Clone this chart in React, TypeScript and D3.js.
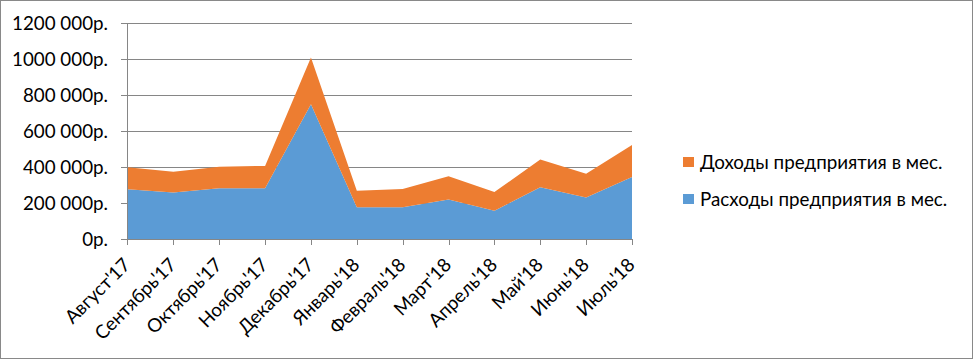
import React, { useEffect, useRef } from 'react';
import * as d3 from 'd3';

const months = ["Август'17", "Сентябрь'17", "Октябрь'17", "Ноябрь'17", "Декабрь'17", "Январь'18",
    "Февраль'18", "Март'18", "Апрель'18", "Май'18", "Июнь'18", "Июль'18"];

// нижний слой
const expenses = [276000, 259000, 282000, 282000, 748000, 176000, 176000, 220000, 157000, 287000, 230000, 344000];
// верхний слой (сверху расходов)
const income = [122000, 115000, 120000, 124000, 261000, 92000, 102000, 128000, 104000, 154000, 133000, 178000];

const seriesNames = ['Расходы предприятия в мес.', 'Доходы предприятия в мес.'];
const colors = ['#5B9BD5', '#ED7D31'];
const yTicks = [0, 200000, 400000, 600000, 800000, 1000000, 1200000];

const fmt = (v: number) => {
    if (v === 0) return '0р.';
    const s = String(v);
    return s.slice(0, s.length - 3) + ' ' + s.slice(-3) + 'р.';
};

const Chart = () => {
    const svgRef = useRef<SVGSVGElement>(null);

    useEffect(() => {
        const svg = d3.select(svgRef.current);
        const width = 975;
        const height = 361;
        const font = 'Lato, Calibri, sans-serif';
        const fs = 18.8;

        svg.selectAll('*').remove();

        svg.append('rect')
            .attr('x', 0.5).attr('y', 0.5)
            .attr('width', width - 3).attr('height', height - 3)
            .attr('fill', '#fff')
            .attr('stroke', '#898989');

        const x = d3.scalePoint<string>()
            .domain(months)
            .range([127.5, 632]);

        const y = d3.scaleLinear()
            .domain([0, 1200000])
            .range([239, 23]);

        const rows = months.map((m, i) => ({ month: m, exp: expenses[i], inc: income[i] }));
        const stacked = d3.stack<any>().keys(['exp', 'inc'])(rows);

        // grid
        svg.append('g')
            .selectAll('line')
            .data(yTicks)
            .enter()
            .append('line')
            .attr('x1', 121).attr('x2', 632)
            .attr('y1', d => Math.round(y(d)) + 0.5)
            .attr('y2', d => Math.round(y(d)) + 0.5)
            .attr('stroke', '#868686')
            .attr('stroke-width', 1);

        const area = d3.area<any>()
            .x((d) => x(d.data.month) as number)
            .y0(d => y(d[0]))
            .y1(d => y(d[1]));

        svg.append('g')
            .selectAll('path')
            .data(stacked)
            .enter()
            .append('path')
            .attr('d', area)
            .attr('fill', (d, i) => colors[i]);

        // y axis line
        svg.append('line')
            .attr('x1', 127.5).attr('x2', 127.5)
            .attr('y1', y(1200000)).attr('y2', y(0))
            .attr('stroke', '#868686');

        // x ticks
        svg.append('g')
            .selectAll('line')
            .data(months)
            .enter()
            .append('line')
            .attr('x1', d => Math.round(x(d) as number) + 0.5)
            .attr('x2', d => Math.round(x(d) as number) + 0.5)
            .attr('y1', 239).attr('y2', 245)
            .attr('stroke', '#868686');

        svg.append('line')
            .attr('x1', 127).attr('x2', 632)
            .attr('y1', 239.5).attr('y2', 239.5)
            .attr('stroke', '#868686');

        // y labels
        svg.append('g')
            .selectAll('text')
            .data(yTicks)
            .enter()
            .append('text')
            .attr('x', 108)
            .attr('y', d => y(d))
            .attr('dy', '0.36em')
            .attr('text-anchor', 'end')
            .attr('font-family', font)
            .attr('font-size', fs)
            .attr('fill', '#000')
            .text(d => fmt(d));

        // x labels
        svg.append('g')
            .selectAll('text')
            .data(months)
            .enter()
            .append('text')
            .attr('transform', d => `translate(${(x(d) as number) + 4},${266}) rotate(-45)`)
            .attr('text-anchor', 'end')
            .attr('font-family', font)
            .attr('font-size', fs)
            .attr('fill', '#000')
            .text(d => d);

        // legend (Доходы сверху)
        const legend = [1, 0].map((k, i) => ({ name: seriesNames[k], color: colors[k], yy: 162 + i * 37 }));
        const lg = svg.append('g');
        lg.selectAll('rect')
            .data(legend)
            .enter()
            .append('rect')
            .attr('x', 683).attr('y', d => d.yy - 5)
            .attr('width', 11).attr('height', 10)
            .attr('fill', d => d.color);
        lg.selectAll('text')
            .data(legend)
            .enter()
            .append('text')
            .attr('x', 700).attr('y', d => d.yy)
            .attr('dy', '0.36em')
            .attr('font-family', font)
            .attr('font-size', fs)
            .attr('fill', '#000')
            .text(d => d.name);
    }, []);

    return (
        <svg ref={svgRef} width={975} height={361} style={{ position: 'absolute', left: 0, top: 0 }}></svg>
    );
};

const App = () => {
    return (
        <div>
            <Chart />
        </div>
    );
};

export default App;
